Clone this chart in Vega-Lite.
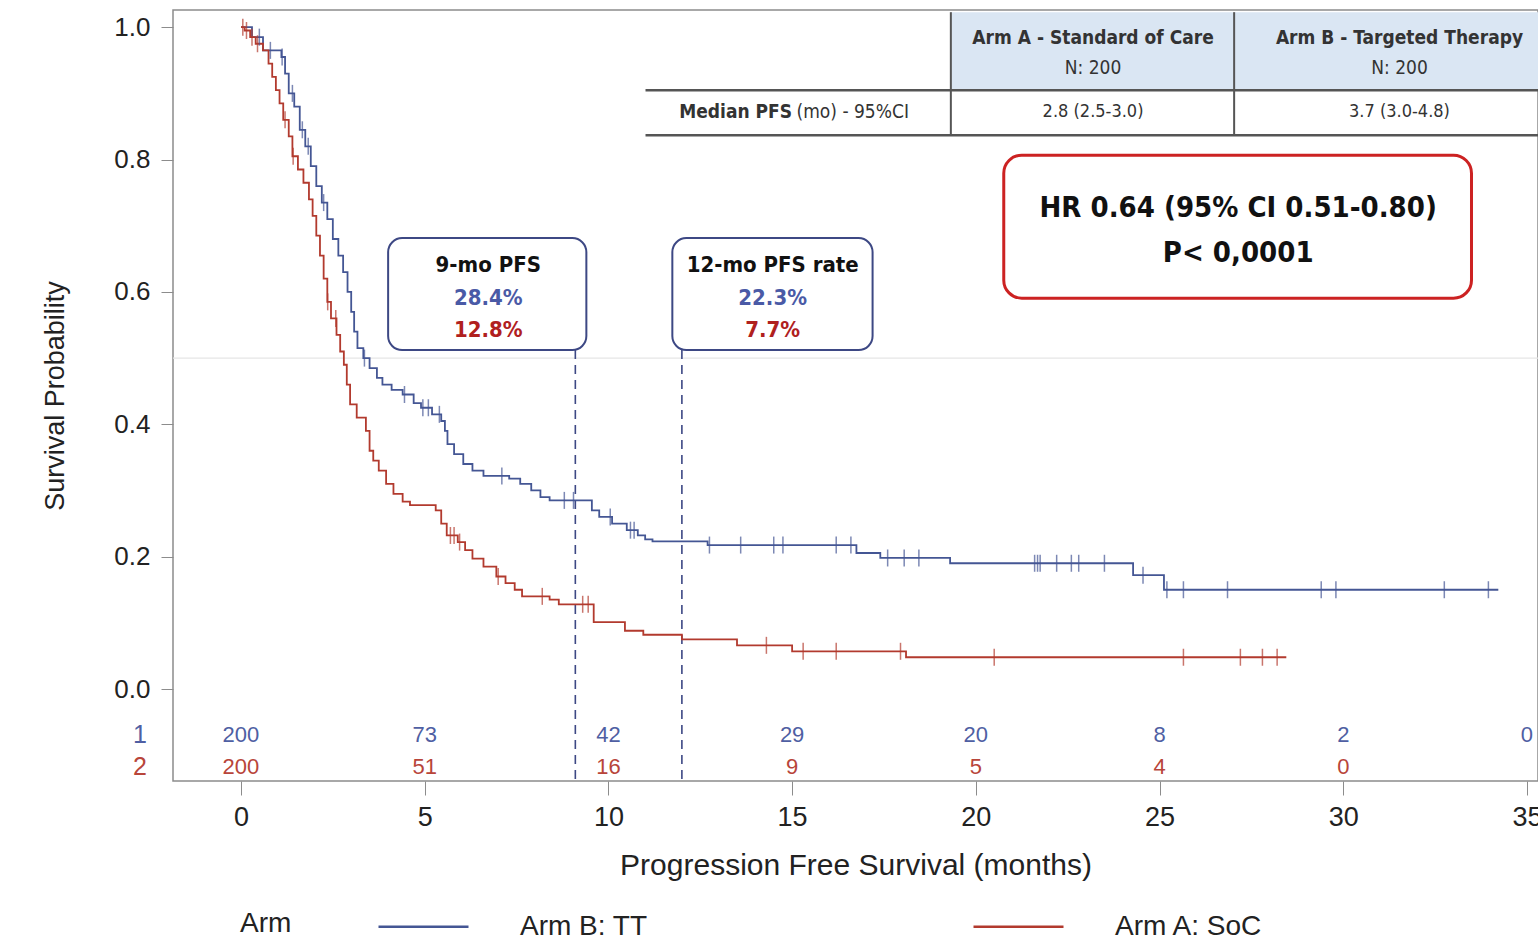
{
  "$schema": "https://vega.github.io/schema/vega-lite/v6.json",
  "width": 1365,
  "height": 771,
  "autosize": {"type": "none"},
  "padding": {"left": 173, "top": 10, "right": 0, "bottom": 164},
  "background": "white",
  "config": {
    "font": "Liberation Sans",
    "view": {"stroke": "#8c8c8c", "strokeWidth": 1.5},
    "axis": {"grid": false, "domain": false, "tickColor": "#8c8c8c", "labelColor": "#222", "titleColor": "#222", "titleFontWeight": "normal"}
  },
  "layer": [
    {
      "data": {"values": [{}]},
      "mark": {"type": "rule", "color": "#e6e6e6", "strokeWidth": 1.2},
      "encoding": {
        "y": {"datum": 0.5, "type": "quantitative", "scale": {"domain": [-0.139, 1.026], "nice": false, "zero": false},
          "axis": {"values": [0, 0.2, 0.4, 0.6, 0.8, 1.0], "format": ".1f", "title": "Survival Probability", "labelFontSize": 26, "titleFontSize": 27, "tickSize": 12, "labelPadding": 11, "titlePadding": 44}},
        "x": {"datum": -1.85, "type": "quantitative", "scale": {"domain": [-1.85, 35.3], "nice": false, "zero": false},
          "axis": {"values": [0, 5, 10, 15, 20, 25, 30, 35], "title": "Progression Free Survival (months)", "labelFontSize": 27, "titleFontSize": 30, "tickSize": 14, "labelPadding": 9, "titlePadding": 20}},
        "x2": {"datum": 35.3}
      }
    },
    {
      "data": {"values": [{}]},
      "mark": {"type": "rect", "fill": "#dae6f3"},
      "encoding": {"x": {"datum": 19.32}, "x2": {"datum": 35.4}, "y": {"datum": 0.9048}, "y2": {"datum": 1.0227}}
    },
    {
      "data": {"values": [{"row": 0.9048}, {"row": 0.8369}]},
      "mark": {"type": "rule", "color": "#555555", "strokeWidth": 2.5},
      "encoding": {"y": {"field": "row", "type": "quantitative"}, "x": {"datum": 11.01}, "x2": {"datum": 35.4}}
    },
    {
      "data": {"values": [{"col": 19.32}, {"col": 27.03}]},
      "mark": {"type": "rule", "color": "#555555", "strokeWidth": 2},
      "encoding": {"x": {"field": "col", "type": "quantitative"}, "y": {"datum": 0.8369}, "y2": {"datum": 1.0227}}
    },
    {
      "data": {"values": [{"label": "Arm A - Standard of Care"}]},
      "mark": {"type": "text", "font": "DejaVu Sans Condensed, Liberation Sans, sans-serif", "fontSize": 19, "fontWeight": "bold", "color": "#333"},
      "encoding": {"x": {"datum": 23.19}, "y": {"datum": 0.9834}, "text": {"field": "label"}}
    },
    {
      "data": {"values": [{"label": "Arm B - Targeted Therapy"}]},
      "mark": {"type": "text", "font": "DejaVu Sans Condensed, Liberation Sans, sans-serif", "fontSize": 19, "fontWeight": "bold", "color": "#333"},
      "encoding": {"x": {"datum": 31.53}, "y": {"datum": 0.9834}, "text": {"field": "label"}}
    },
    {
      "data": {"values": [{"label": "N: 200"}]},
      "mark": {"type": "text", "font": "DejaVu Sans Condensed, Liberation Sans, sans-serif", "fontSize": 19, "color": "#333"},
      "encoding": {"x": {"datum": 23.19}, "y": {"datum": 0.938}, "text": {"field": "label"}}
    },
    {
      "data": {"values": [{"label": "N: 200"}]},
      "mark": {"type": "text", "font": "DejaVu Sans Condensed, Liberation Sans, sans-serif", "fontSize": 19, "color": "#333"},
      "encoding": {"x": {"datum": 31.53}, "y": {"datum": 0.938}, "text": {"field": "label"}}
    },
    {
      "data": {"values": [{"label": "Median PFS"}]},
      "mark": {"type": "text", "font": "DejaVu Sans Condensed, Liberation Sans, sans-serif", "fontSize": 19, "fontWeight": "bold", "color": "#333", "align": "right"},
      "encoding": {"x": {"datum": 15.0}, "y": {"datum": 0.8716}, "text": {"field": "label"}}
    },
    {
      "data": {"values": [{"label": "(mo) - 95%CI"}]},
      "mark": {"type": "text", "font": "DejaVu Sans Condensed, Liberation Sans, sans-serif", "fontSize": 19, "color": "#333", "align": "left"},
      "encoding": {"x": {"datum": 15.12}, "y": {"datum": 0.8716}, "text": {"field": "label"}}
    },
    {
      "data": {"values": [{"label": "2.8 (2.5-3.0)"}]},
      "mark": {"type": "text", "font": "DejaVu Sans Condensed, Liberation Sans, sans-serif", "fontSize": 18, "color": "#333"},
      "encoding": {"x": {"datum": 23.19}, "y": {"datum": 0.8716}, "text": {"field": "label"}}
    },
    {
      "data": {"values": [{"label": "3.7 (3.0-4.8)"}]},
      "mark": {"type": "text", "font": "DejaVu Sans Condensed, Liberation Sans, sans-serif", "fontSize": 18, "color": "#333"},
      "encoding": {"x": {"datum": 31.53}, "y": {"datum": 0.8716}, "text": {"field": "label"}}
    },
    {
      "data": {"values": [{}]},
      "mark": {"type": "rect", "fill": "white", "stroke": "#3d4884", "strokeWidth": 2, "cornerRadius": 14},
      "encoding": {"x": {"datum": 4.005}, "x2": {"datum": 9.4}, "y": {"datum": 0.5121}, "y2": {"datum": 0.6813}}
    },
    {
      "data": {"values": [{}]},
      "mark": {"type": "rect", "fill": "white", "stroke": "#3d4884", "strokeWidth": 2, "cornerRadius": 14},
      "encoding": {"x": {"datum": 11.74}, "x2": {"datum": 17.19}, "y": {"datum": 0.5121}, "y2": {"datum": 0.6813}}
    },
    {
      "data": {"values": [{}]},
      "mark": {"type": "rect", "fill": "white", "stroke": "#cc2222", "strokeWidth": 3, "cornerRadius": 18},
      "encoding": {"x": {"datum": 20.76}, "x2": {"datum": 33.49}, "y": {"datum": 0.5906}, "y2": {"datum": 0.8066}}
    },
    {
      "data": {"values": [{"at": 9.1}, {"at": 12}]},
      "mark": {"type": "rule", "color": "#3d4884", "strokeWidth": 1.6, "strokeDash": [9, 6]},
      "encoding": {"x": {"field": "at", "type": "quantitative"}, "y": {"datum": 0.5121}, "y2": {"datum": -0.139}}
    },
    {
      "data": {"name": "km", "values": [
        {"arm": "Arm B: TT", "month": 0, "surv": 1.0},
        {"arm": "Arm B: TT", "month": 0.3, "surv": 0.985},
        {"arm": "Arm B: TT", "month": 0.6, "surv": 0.965},
        {"arm": "Arm B: TT", "month": 1.1, "surv": 0.955},
        {"arm": "Arm B: TT", "month": 1.2, "surv": 0.93},
        {"arm": "Arm B: TT", "month": 1.3, "surv": 0.9},
        {"arm": "Arm B: TT", "month": 1.45, "surv": 0.88},
        {"arm": "Arm B: TT", "month": 1.6, "surv": 0.845},
        {"arm": "Arm B: TT", "month": 1.75, "surv": 0.82},
        {"arm": "Arm B: TT", "month": 1.9, "surv": 0.79},
        {"arm": "Arm B: TT", "month": 2.05, "surv": 0.76},
        {"arm": "Arm B: TT", "month": 2.2, "surv": 0.735},
        {"arm": "Arm B: TT", "month": 2.35, "surv": 0.71},
        {"arm": "Arm B: TT", "month": 2.5, "surv": 0.68},
        {"arm": "Arm B: TT", "month": 2.65, "surv": 0.655},
        {"arm": "Arm B: TT", "month": 2.78, "surv": 0.63},
        {"arm": "Arm B: TT", "month": 2.9, "surv": 0.6},
        {"arm": "Arm B: TT", "month": 3.0, "surv": 0.57},
        {"arm": "Arm B: TT", "month": 3.08, "surv": 0.54},
        {"arm": "Arm B: TT", "month": 3.17, "surv": 0.515},
        {"arm": "Arm B: TT", "month": 3.33, "surv": 0.5},
        {"arm": "Arm B: TT", "month": 3.5, "surv": 0.485},
        {"arm": "Arm B: TT", "month": 3.7, "surv": 0.47},
        {"arm": "Arm B: TT", "month": 3.85, "surv": 0.46},
        {"arm": "Arm B: TT", "month": 4.1, "surv": 0.452},
        {"arm": "Arm B: TT", "month": 4.4, "surv": 0.445},
        {"arm": "Arm B: TT", "month": 4.7, "surv": 0.432},
        {"arm": "Arm B: TT", "month": 4.9, "surv": 0.425},
        {"arm": "Arm B: TT", "month": 5.2, "surv": 0.415},
        {"arm": "Arm B: TT", "month": 5.45, "surv": 0.405},
        {"arm": "Arm B: TT", "month": 5.55, "surv": 0.39},
        {"arm": "Arm B: TT", "month": 5.62, "surv": 0.37},
        {"arm": "Arm B: TT", "month": 5.8, "surv": 0.355},
        {"arm": "Arm B: TT", "month": 6.05, "surv": 0.34},
        {"arm": "Arm B: TT", "month": 6.3, "surv": 0.33},
        {"arm": "Arm B: TT", "month": 6.6, "surv": 0.322},
        {"arm": "Arm B: TT", "month": 7.3, "surv": 0.318},
        {"arm": "Arm B: TT", "month": 7.6, "surv": 0.31},
        {"arm": "Arm B: TT", "month": 7.9, "surv": 0.3},
        {"arm": "Arm B: TT", "month": 8.15, "surv": 0.29},
        {"arm": "Arm B: TT", "month": 8.4, "surv": 0.285},
        {"arm": "Arm B: TT", "month": 9.55, "surv": 0.27},
        {"arm": "Arm B: TT", "month": 9.75, "surv": 0.26},
        {"arm": "Arm B: TT", "month": 10.1, "surv": 0.25},
        {"arm": "Arm B: TT", "month": 10.5, "surv": 0.24},
        {"arm": "Arm B: TT", "month": 10.8, "surv": 0.232},
        {"arm": "Arm B: TT", "month": 11.0, "surv": 0.226},
        {"arm": "Arm B: TT", "month": 11.2, "surv": 0.223},
        {"arm": "Arm B: TT", "month": 12.7, "surv": 0.2175},
        {"arm": "Arm B: TT", "month": 16.75, "surv": 0.2055},
        {"arm": "Arm B: TT", "month": 17.4, "surv": 0.198},
        {"arm": "Arm B: TT", "month": 19.3, "surv": 0.19},
        {"arm": "Arm B: TT", "month": 24.28, "surv": 0.172},
        {"arm": "Arm B: TT", "month": 25.12, "surv": 0.15},
        {"arm": "Arm B: TT", "month": 34.22, "surv": 0.15},
        {"arm": "Arm A: SoC", "month": 0, "surv": 1.0},
        {"arm": "Arm A: SoC", "month": 0.1, "surv": 0.995},
        {"arm": "Arm A: SoC", "month": 0.25, "surv": 0.985},
        {"arm": "Arm A: SoC", "month": 0.4, "surv": 0.975},
        {"arm": "Arm A: SoC", "month": 0.6, "surv": 0.965},
        {"arm": "Arm A: SoC", "month": 0.75, "surv": 0.945},
        {"arm": "Arm A: SoC", "month": 0.85, "surv": 0.925},
        {"arm": "Arm A: SoC", "month": 0.95, "surv": 0.905},
        {"arm": "Arm A: SoC", "month": 1.05, "surv": 0.885},
        {"arm": "Arm A: SoC", "month": 1.15, "surv": 0.86},
        {"arm": "Arm A: SoC", "month": 1.3, "surv": 0.835},
        {"arm": "Arm A: SoC", "month": 1.4, "surv": 0.805},
        {"arm": "Arm A: SoC", "month": 1.55, "surv": 0.785},
        {"arm": "Arm A: SoC", "month": 1.7, "surv": 0.765},
        {"arm": "Arm A: SoC", "month": 1.85, "surv": 0.74},
        {"arm": "Arm A: SoC", "month": 1.95, "surv": 0.715},
        {"arm": "Arm A: SoC", "month": 2.05, "surv": 0.685},
        {"arm": "Arm A: SoC", "month": 2.15, "surv": 0.655},
        {"arm": "Arm A: SoC", "month": 2.25, "surv": 0.62},
        {"arm": "Arm A: SoC", "month": 2.35, "surv": 0.585},
        {"arm": "Arm A: SoC", "month": 2.45, "surv": 0.56},
        {"arm": "Arm A: SoC", "month": 2.6, "surv": 0.535},
        {"arm": "Arm A: SoC", "month": 2.7, "surv": 0.51},
        {"arm": "Arm A: SoC", "month": 2.8, "surv": 0.49},
        {"arm": "Arm A: SoC", "month": 2.88, "surv": 0.46},
        {"arm": "Arm A: SoC", "month": 2.97, "surv": 0.43},
        {"arm": "Arm A: SoC", "month": 3.15, "surv": 0.41},
        {"arm": "Arm A: SoC", "month": 3.4, "surv": 0.39},
        {"arm": "Arm A: SoC", "month": 3.5, "surv": 0.36},
        {"arm": "Arm A: SoC", "month": 3.6, "surv": 0.345},
        {"arm": "Arm A: SoC", "month": 3.75, "surv": 0.33},
        {"arm": "Arm A: SoC", "month": 3.95, "surv": 0.31},
        {"arm": "Arm A: SoC", "month": 4.15, "surv": 0.295},
        {"arm": "Arm A: SoC", "month": 4.4, "surv": 0.283},
        {"arm": "Arm A: SoC", "month": 4.6, "surv": 0.278},
        {"arm": "Arm A: SoC", "month": 5.3, "surv": 0.27},
        {"arm": "Arm A: SoC", "month": 5.45, "surv": 0.25},
        {"arm": "Arm A: SoC", "month": 5.6, "surv": 0.232},
        {"arm": "Arm A: SoC", "month": 5.9, "surv": 0.222},
        {"arm": "Arm A: SoC", "month": 6.1, "surv": 0.21},
        {"arm": "Arm A: SoC", "month": 6.3, "surv": 0.197},
        {"arm": "Arm A: SoC", "month": 6.6, "surv": 0.185},
        {"arm": "Arm A: SoC", "month": 6.95, "surv": 0.17},
        {"arm": "Arm A: SoC", "month": 7.2, "surv": 0.16},
        {"arm": "Arm A: SoC", "month": 7.45, "surv": 0.15},
        {"arm": "Arm A: SoC", "month": 7.65, "surv": 0.14},
        {"arm": "Arm A: SoC", "month": 8.4, "surv": 0.135},
        {"arm": "Arm A: SoC", "month": 8.65, "surv": 0.128},
        {"arm": "Arm A: SoC", "month": 9.6, "surv": 0.101},
        {"arm": "Arm A: SoC", "month": 10.45, "surv": 0.088},
        {"arm": "Arm A: SoC", "month": 10.95, "surv": 0.082},
        {"arm": "Arm A: SoC", "month": 12.0, "surv": 0.075},
        {"arm": "Arm A: SoC", "month": 13.5, "surv": 0.066},
        {"arm": "Arm A: SoC", "month": 15.0, "surv": 0.057},
        {"arm": "Arm A: SoC", "month": 18.1, "surv": 0.048},
        {"arm": "Arm A: SoC", "month": 28.45, "surv": 0.048}
      ]},
      "mark": {"type": "line", "interpolate": "step-after", "strokeWidth": 1.8},
      "encoding": {
        "x": {"field": "month", "type": "quantitative"},
        "y": {"field": "surv", "type": "quantitative"},
        "color": {"field": "arm", "type": "nominal",
          "scale": {"domain": ["Arm B: TT", "Arm A: SoC"], "range": ["#445694", "#B23A2E"]},
          "legend": {"orient": "none", "legendX": 67, "legendY": 870, "direction": "horizontal", "title": "Arm", "titleOrient": "left", "titleBaseline": "top", "titleFontSize": 28, "titleFontWeight": "normal", "titleColor": "#222", "titlePadding": 85, "labelFontSize": 28, "labelColor": "#222", "symbolType": "stroke", "symbolSize": 8100, "symbolStrokeWidth": 2.5, "labelOffset": 50, "columnPadding": 320, "labelLimit": 400}
        }
      }
    },
    {
      "data": {"name": "censor", "values": [
        {"arm": "Arm B: TT", "month": 0.5, "surv": 0.985},
        {"arm": "Arm B: TT", "month": 0.8, "surv": 0.965},
        {"arm": "Arm B: TT", "month": 1.12, "surv": 0.955},
        {"arm": "Arm B: TT", "month": 1.4, "surv": 0.9},
        {"arm": "Arm B: TT", "month": 1.67, "surv": 0.845},
        {"arm": "Arm B: TT", "month": 1.83, "surv": 0.82},
        {"arm": "Arm B: TT", "month": 2.25, "surv": 0.735},
        {"arm": "Arm B: TT", "month": 3.36, "surv": 0.5},
        {"arm": "Arm B: TT", "month": 4.45, "surv": 0.445},
        {"arm": "Arm B: TT", "month": 4.95, "surv": 0.425},
        {"arm": "Arm B: TT", "month": 5.1, "surv": 0.425},
        {"arm": "Arm B: TT", "month": 5.4, "surv": 0.415},
        {"arm": "Arm B: TT", "month": 7.1, "surv": 0.322},
        {"arm": "Arm B: TT", "month": 8.8, "surv": 0.285},
        {"arm": "Arm B: TT", "month": 9.05, "surv": 0.285},
        {"arm": "Arm B: TT", "month": 10.05, "surv": 0.26},
        {"arm": "Arm B: TT", "month": 10.6, "surv": 0.24},
        {"arm": "Arm B: TT", "month": 10.7, "surv": 0.24},
        {"arm": "Arm B: TT", "month": 12.75, "surv": 0.2175},
        {"arm": "Arm B: TT", "month": 13.6, "surv": 0.2175},
        {"arm": "Arm B: TT", "month": 14.5, "surv": 0.2175},
        {"arm": "Arm B: TT", "month": 14.75, "surv": 0.2175},
        {"arm": "Arm B: TT", "month": 16.2, "surv": 0.2175},
        {"arm": "Arm B: TT", "month": 16.6, "surv": 0.2175},
        {"arm": "Arm B: TT", "month": 17.6, "surv": 0.198},
        {"arm": "Arm B: TT", "month": 18.05, "surv": 0.198},
        {"arm": "Arm B: TT", "month": 18.45, "surv": 0.198},
        {"arm": "Arm B: TT", "month": 21.6, "surv": 0.19},
        {"arm": "Arm B: TT", "month": 21.68, "surv": 0.19},
        {"arm": "Arm B: TT", "month": 21.75, "surv": 0.19},
        {"arm": "Arm B: TT", "month": 22.2, "surv": 0.19},
        {"arm": "Arm B: TT", "month": 22.6, "surv": 0.19},
        {"arm": "Arm B: TT", "month": 22.8, "surv": 0.19},
        {"arm": "Arm B: TT", "month": 23.5, "surv": 0.19},
        {"arm": "Arm B: TT", "month": 24.55, "surv": 0.172},
        {"arm": "Arm B: TT", "month": 25.2, "surv": 0.15},
        {"arm": "Arm B: TT", "month": 25.65, "surv": 0.15},
        {"arm": "Arm B: TT", "month": 26.85, "surv": 0.15},
        {"arm": "Arm B: TT", "month": 29.4, "surv": 0.15},
        {"arm": "Arm B: TT", "month": 29.8, "surv": 0.15},
        {"arm": "Arm B: TT", "month": 32.75, "surv": 0.15},
        {"arm": "Arm B: TT", "month": 33.95, "surv": 0.15},
        {"arm": "Arm A: SoC", "month": 0.05, "surv": 1.0},
        {"arm": "Arm A: SoC", "month": 0.15, "surv": 0.995},
        {"arm": "Arm A: SoC", "month": 0.3, "surv": 0.985},
        {"arm": "Arm A: SoC", "month": 0.45, "surv": 0.975},
        {"arm": "Arm A: SoC", "month": 1.2, "surv": 0.86},
        {"arm": "Arm A: SoC", "month": 1.42, "surv": 0.805},
        {"arm": "Arm A: SoC", "month": 2.36, "surv": 0.585},
        {"arm": "Arm A: SoC", "month": 2.58, "surv": 0.56},
        {"arm": "Arm A: SoC", "month": 5.7, "surv": 0.232},
        {"arm": "Arm A: SoC", "month": 5.8, "surv": 0.232},
        {"arm": "Arm A: SoC", "month": 5.95, "surv": 0.222},
        {"arm": "Arm A: SoC", "month": 7.0, "surv": 0.17},
        {"arm": "Arm A: SoC", "month": 8.2, "surv": 0.14},
        {"arm": "Arm A: SoC", "month": 9.3, "surv": 0.128},
        {"arm": "Arm A: SoC", "month": 9.45, "surv": 0.128},
        {"arm": "Arm A: SoC", "month": 14.3, "surv": 0.066},
        {"arm": "Arm A: SoC", "month": 15.3, "surv": 0.057},
        {"arm": "Arm A: SoC", "month": 16.2, "surv": 0.057},
        {"arm": "Arm A: SoC", "month": 17.95, "surv": 0.057},
        {"arm": "Arm A: SoC", "month": 20.5, "surv": 0.048},
        {"arm": "Arm A: SoC", "month": 25.65, "surv": 0.048},
        {"arm": "Arm A: SoC", "month": 27.2, "surv": 0.048},
        {"arm": "Arm A: SoC", "month": 27.8, "surv": 0.048},
        {"arm": "Arm A: SoC", "month": 28.2, "surv": 0.048}
      ]},
      "mark": {"type": "tick", "orient": "vertical", "size": 17, "thickness": 1.5},
      "encoding": {
        "x": {"field": "month", "type": "quantitative"},
        "y": {"field": "surv", "type": "quantitative"},
        "color": {"field": "arm", "type": "nominal", "legend": null}
      }
    },
    {
      "data": {"name": "atriskB", "values": [
        {"arm": "Arm B: TT", "month": 0, "n": 200},
        {"arm": "Arm B: TT", "month": 5, "n": 73},
        {"arm": "Arm B: TT", "month": 10, "n": 42},
        {"arm": "Arm B: TT", "month": 15, "n": 29},
        {"arm": "Arm B: TT", "month": 20, "n": 20},
        {"arm": "Arm B: TT", "month": 25, "n": 8},
        {"arm": "Arm B: TT", "month": 30, "n": 2},
        {"arm": "Arm B: TT", "month": 35, "n": 0}
      ]},
      "mark": {"type": "text", "fontSize": 22, "color": "#4f5fa3"},
      "encoding": {"x": {"field": "month", "type": "quantitative"}, "y": {"datum": -0.0695}, "text": {"field": "n", "type": "quantitative"}}
    },
    {
      "data": {"name": "atriskA", "values": [
        {"arm": "Arm A: SoC", "month": 0, "n": 200},
        {"arm": "Arm A: SoC", "month": 5, "n": 51},
        {"arm": "Arm A: SoC", "month": 10, "n": 16},
        {"arm": "Arm A: SoC", "month": 15, "n": 9},
        {"arm": "Arm A: SoC", "month": 20, "n": 5},
        {"arm": "Arm A: SoC", "month": 25, "n": 4},
        {"arm": "Arm A: SoC", "month": 30, "n": 0}
      ]},
      "mark": {"type": "text", "fontSize": 22, "color": "#b8453a"},
      "encoding": {"x": {"field": "month", "type": "quantitative"}, "y": {"datum": -0.1178}, "text": {"field": "n", "type": "quantitative"}}
    },
    {
      "data": {"values": [{"label": "1"}]},
      "mark": {"type": "text", "fontSize": 25, "color": "#4f5fa3"},
      "encoding": {"x": {"datum": -2.75}, "y": {"datum": -0.0695}, "text": {"field": "label"}}
    },
    {
      "data": {"values": [{"label": "2"}]},
      "mark": {"type": "text", "fontSize": 25, "color": "#b8453a"},
      "encoding": {"x": {"datum": -2.75}, "y": {"datum": -0.1178}, "text": {"field": "label"}}
    },
    {
      "data": {"values": [{"label": "9-mo PFS"}]},
      "mark": {"type": "text", "font": "DejaVu Sans Condensed, Liberation Sans, sans-serif", "fontSize": 22, "fontWeight": "bold", "color": "#111"},
      "encoding": {"x": {"datum": 6.73}, "y": {"datum": 0.6405}, "text": {"field": "label"}}
    },
    {
      "data": {"values": [{"label": "28.4%"}]},
      "mark": {"type": "text", "font": "DejaVu Sans Condensed, Liberation Sans, sans-serif", "fontSize": 22, "fontWeight": "bold", "color": "#4a5aa6"},
      "encoding": {"x": {"datum": 6.73}, "y": {"datum": 0.5906}, "text": {"field": "label"}}
    },
    {
      "data": {"values": [{"label": "12.8%"}]},
      "mark": {"type": "text", "font": "DejaVu Sans Condensed, Liberation Sans, sans-serif", "fontSize": 22, "fontWeight": "bold", "color": "#b0201e"},
      "encoding": {"x": {"datum": 6.73}, "y": {"datum": 0.5423}, "text": {"field": "label"}}
    },
    {
      "data": {"values": [{"label": "12-mo PFS rate"}]},
      "mark": {"type": "text", "font": "DejaVu Sans Condensed, Liberation Sans, sans-serif", "fontSize": 22, "fontWeight": "bold", "color": "#111"},
      "encoding": {"x": {"datum": 14.47}, "y": {"datum": 0.6405}, "text": {"field": "label"}}
    },
    {
      "data": {"values": [{"label": "22.3%"}]},
      "mark": {"type": "text", "font": "DejaVu Sans Condensed, Liberation Sans, sans-serif", "fontSize": 22, "fontWeight": "bold", "color": "#4a5aa6"},
      "encoding": {"x": {"datum": 14.47}, "y": {"datum": 0.5906}, "text": {"field": "label"}}
    },
    {
      "data": {"values": [{"label": "7.7%"}]},
      "mark": {"type": "text", "font": "DejaVu Sans Condensed, Liberation Sans, sans-serif", "fontSize": 22, "fontWeight": "bold", "color": "#b0201e"},
      "encoding": {"x": {"datum": 14.47}, "y": {"datum": 0.5423}, "text": {"field": "label"}}
    },
    {
      "data": {"values": [{"label": "HR 0.64 (95% CI 0.51-0.80)"}]},
      "mark": {"type": "text", "font": "DejaVu Sans Condensed, Liberation Sans, sans-serif", "fontSize": 29, "fontWeight": "bold", "color": "#111"},
      "encoding": {"x": {"datum": 27.14}, "y": {"datum": 0.7266}, "text": {"field": "label"}}
    },
    {
      "data": {"values": [{"label": "P< 0,0001"}]},
      "mark": {"type": "text", "font": "DejaVu Sans Condensed, Liberation Sans, sans-serif", "fontSize": 29, "fontWeight": "bold", "color": "#111"},
      "encoding": {"x": {"datum": 27.14}, "y": {"datum": 0.6586}, "text": {"field": "label"}}
    }
  ]
}
